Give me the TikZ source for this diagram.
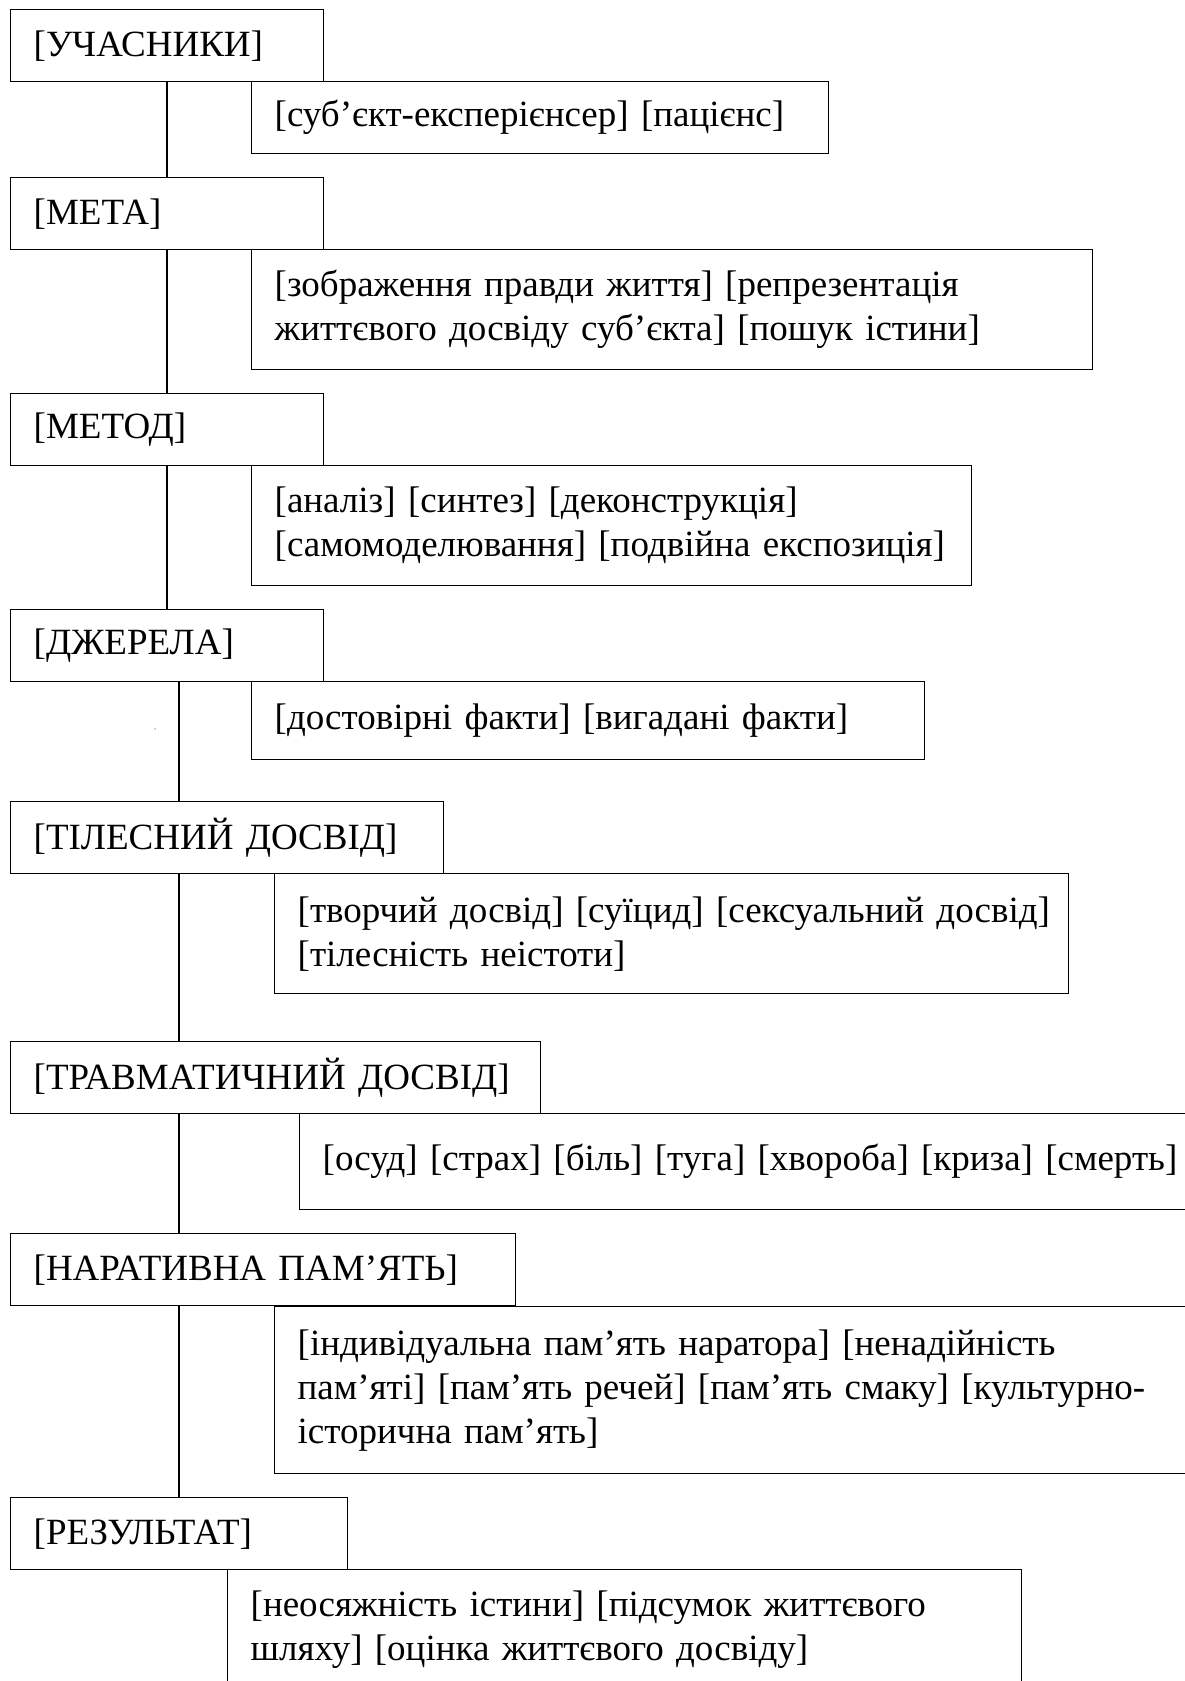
\documentclass[tikz,border=0pt]{standalone}
\usepackage{fontspec}
\setmainfont{Liberation Serif}
\usetikzlibrary{calc}
\begin{document}
\begin{tikzpicture}[x=1pt,y=-1pt,
  boxst/.style={draw, line width=1.4pt, rectangle, anchor=north west,
    inner xsep=23pt, inner ysep=0pt, align=left,
    font=\fontsize{37}{44}\selectfont},
  conn/.style={draw, line width=1.1pt}
]
\useasboundingbox (0,0) rectangle (1185,1681);
\fill[white] (0,0) rectangle (1185,1681);
\clip (0,0) rectangle (1185,1681);

% main boxes
\node[boxst, text width=267pt, minimum height=72pt] (uch) at (10,9) {[УЧАСНИКИ]};
\node[boxst, text width=267pt, minimum height=72pt] (meta) at (10,177) {[МЕТА]};
\node[boxst, text width=267pt, minimum height=72pt] (metod) at (10,393) {[МЕТОД]};
\node[boxst, text width=267pt, minimum height=72pt] (dzh) at (10,609) {[ДЖЕРЕЛА]};
\node[boxst, text width=387pt, minimum height=72pt] (til) at (10,801) {[ТІЛЕСНИЙ ДОСВІД]};
\node[boxst, text width=484pt, minimum height=72pt] (trav) at (10,1041) {[ТРАВМАТИЧНИЙ ДОСВІД]};
\node[boxst, text width=459pt, minimum height=72pt] (nar) at (10,1233) {[НАРАТИВНА ПАМ’ЯТЬ]};
\node[boxst, text width=291pt, minimum height=72pt] (rez) at (10,1497) {[РЕЗУЛЬТАТ]};

% sub boxes
\node[boxst, text width=531pt, minimum height=72pt] (s1) at (251,81)
  {\mbox{[суб’єкт-експерієнсер] [пацієнс]}};
\node[boxst, text width=795pt, minimum height=120pt] (s2) at (251,249)
  {\mbox{[зображення правди життя] [репрезентація}\\\mbox{життєвого досвіду суб’єкта] [пошук істини]}};
\node[boxst, text width=674pt, minimum height=120pt] (s3) at (251,465)
  {\mbox{[аналіз] [синтез] [деконструкція]}\\\mbox{[самомоделювання] [подвійна експозиція]}};
\node[boxst, text width=627pt, minimum height=78pt] (s4) at (251,681)
  {\mbox{[достовірні факти] [вигадані факти]}};
\node[boxst, text width=748pt, minimum height=120pt] (s5) at (274,873)
  {\mbox{[творчий досвід] [суїцид] [сексуальний досвід]}\\\mbox{[тілесність неістоти]}};
\node[boxst, text width=900pt, minimum height=96pt] (s6) at (299,1113)
  {\mbox{[осуд] [страх] [біль] [туга] [хвороба] [криза] [смерть]}};
\node[boxst, text width=900pt, minimum height=167pt] (s7) at (274,1306)
  {\mbox{[індивідуальна пам’ять наратора] [ненадійність}\\\mbox{пам’яті] [пам’ять речей] [пам’ять смаку] [культурно-}\\\mbox{історична пам’ять]}};
\node[boxst, text width=748pt, minimum height=120pt] (s8) at (227,1569)
  {\mbox{[неосяжність істини] [підсумок життєвого}\\\mbox{шляху] [оцінка життєвого досвіду]}};

% connectors
\draw[conn] ($(uch.south west)+(157,0)$) -- ($(meta.north west)+(157,0)$);
\draw[conn] ($(meta.south west)+(157,0)$) -- ($(metod.north west)+(157,0)$);
\draw[conn] ($(metod.south west)+(157,0)$) -- ($(dzh.north west)+(157,0)$);
\draw[conn] ($(dzh.south west)+(169,0)$) -- ($(til.north west)+(169,0)$);
\draw[conn] ($(til.south west)+(169,0)$) -- ($(trav.north west)+(169,0)$);
\draw[conn] ($(trav.south west)+(169,0)$) -- ($(nar.north west)+(169,0)$);
\draw[conn] ($(nar.south west)+(169,0)$) -- ($(rez.north west)+(169,0)$);

% stray speck
\fill[gray!70] (155,729) circle (0.8);
\end{tikzpicture}
\end{document}
